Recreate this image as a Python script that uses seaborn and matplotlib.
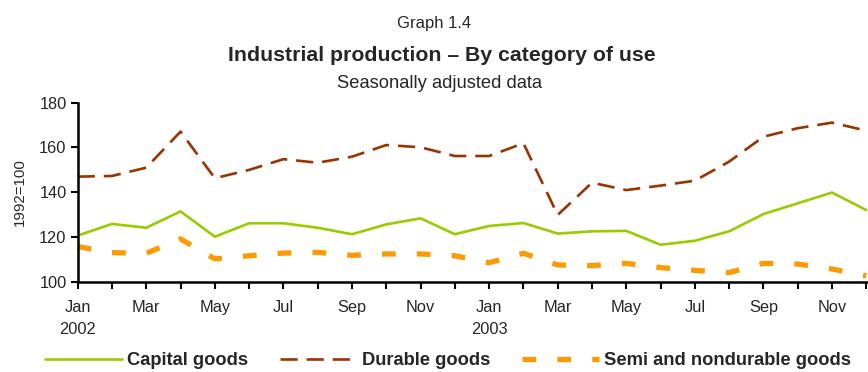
import matplotlib
matplotlib.use("Agg")
import matplotlib.pyplot as plt
import seaborn as sns
import pandas as pd
import numpy as np

# Monthly index values, Jan 2002 - Dec 2003 (1992=100)
months = ["Jan", "Feb", "Mar", "Apr", "May", "Jun",
          "Jul", "Aug", "Sep", "Oct", "Nov", "Dec"] * 2
years = ["2002"] * 12 + ["2003"] * 12

capital_goods = [120.7, 125.9, 124.2, 131.5, 120.2, 126.2, 126.2, 124.2,
                 121.3, 125.7, 128.4, 121.3, 125.0, 126.3, 121.6, 122.6,
                 122.8, 116.6, 118.4, 122.6, 130.3, 135.1, 139.9, 132.1]
durable_goods = [147.0, 147.3, 151.0, 167.1, 146.3, 150.0, 154.8, 153.2,
                 155.9, 161.1, 160.1, 156.2, 156.2, 161.9, 129.9, 144.3,
                 141.0, 143.0, 145.2, 153.7, 164.8, 168.6, 171.1, 167.5]
semi_nondurable = [115.8, 113.1, 112.8, 119.2, 110.3, 111.7, 112.9, 113.2,
                   111.9, 112.5, 112.5, 111.7, 108.6, 112.8, 107.6, 107.3,
                   108.3, 106.4, 105.2, 104.2, 108.3, 108.0, 105.8, 102.7]

series_names = ["Capital goods", "Durable goods", "Semi and nondurable goods"]
series_values = [capital_goods, durable_goods, semi_nondurable]

sns.set_theme(style="white")
plt.rcParams["font.family"] = ["Liberation Sans", "DejaVu Sans"]

fig = plt.figure(figsize=(8.68, 3.72), dpi=100)
ax = fig.add_axes([0.0895, 0.242, 0.9105, 0.482])

x = np.arange(len(months))
styles = {
    "Capital goods": dict(color="#99CC00", lw=1.9, dashes=None),
    "Durable goods": dict(color="#993300", lw=1.9, dashes=(6.5, 3.4)),
    "Semi and nondurable goods": dict(color="#FF9900", lw=3.8, dashes=(2.6, 4.0)),
}
for name, vals in zip(series_names, series_values):
    st = styles[name]
    df = pd.DataFrame({"month": x, "value": vals})
    sns.lineplot(data=df, x="month", y="value", ax=ax,
                 color=st["color"], linewidth=st["lw"], label=name,
                 legend=False)
    if st["dashes"] is not None:
        ax.lines[-1].set_dashes(st["dashes"])

ax.set_xlim(0, len(months) - 1 + 0.05)
ax.set_ylim(100, 180)
ax.set_yticks([100, 120, 140, 160, 180])
ax.set_xticks(x)
xlabels = []
for i, (m, yr) in enumerate(zip(months, years)):
    if i % 2 == 0:
        xlabels.append(f"{m}\n{yr}" if m == "Jan" else m)
    else:
        xlabels.append("")
ax.set_xticklabels(xlabels, fontsize=11.8, linespacing=1.6)
ax.tick_params(axis="y", labelsize=11.8, direction="out", length=5, width=1.5,
               left=True, color="black", pad=3)
ax.tick_params(axis="x", direction="out", length=5, width=1.5, bottom=True,
               color="black", pad=8)
ax.set_xlabel("")
ax.set_ylabel("1992=100", fontsize=10.8, labelpad=9)

for side in ["top", "right"]:
    ax.spines[side].set_visible(False)
for side in ["left", "bottom"]:
    ax.spines[side].set_color("black")
    ax.spines[side].set_linewidth(1.8)

fig.text(0.5, 0.938, "Graph 1.4", ha="center", va="center", fontsize=12)
fig.text(0.5087, 0.852, "Industrial production \u2013 By category of use",
         ha="center", va="center", fontsize=15.3, fontweight="bold")
fig.text(0.506, 0.776, "Seasonally adjusted data", ha="center", va="center",
         fontsize=13.2)

handles = ax.lines[:3]
leg = fig.legend(handles, series_names, loc="center", bbox_to_anchor=(0.516, 0.03),
                 ncol=3, frameon=False, handlelength=4.2, handletextpad=0.3,
                 columnspacing=1.7, prop={"weight": "bold", "size": 13.2})

fig.savefig("out.png", dpi=100)
